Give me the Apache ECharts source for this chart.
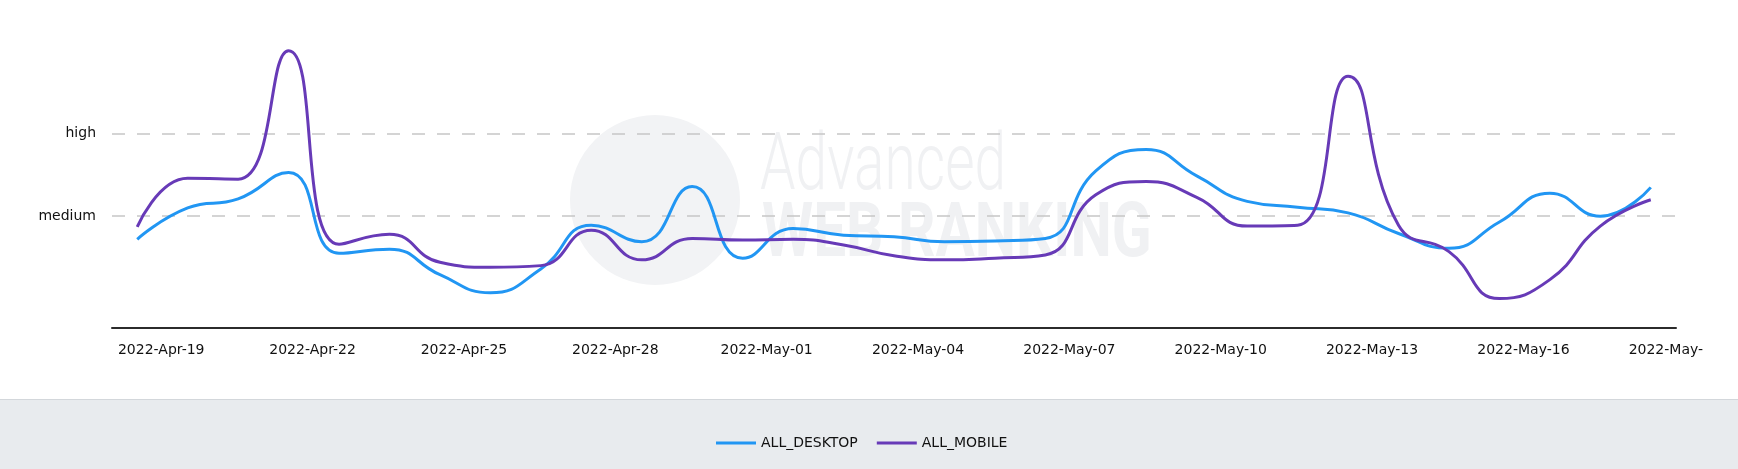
<!DOCTYPE html>
<html>
<head>
<meta charset="utf-8">
<script src="https://cdn.jsdelivr.net/npm/echarts@6/dist/echarts.min.js"></script>
<style>
  html, body { margin: 0; padding: 0; }
  body {
    width: 1738px; height: 469px; overflow: hidden;
    background: linear-gradient(to bottom, #ffffff 0, #ffffff 399px, #d3d7db 399px, #d3d7db 400px, #e8ebee 400px, #e8ebee 469px);
  }
  #chart { width: 1704px; height: 469px; }
</style>
</head>
<body>
<div id="chart"></div>
<script>
// ---- data ----
const categories = [
  '2022-Apr-19','2022-Apr-20','2022-Apr-21','2022-Apr-22','2022-Apr-23','2022-Apr-24',
  '2022-Apr-25','2022-Apr-26','2022-Apr-27','2022-Apr-28','2022-Apr-29','2022-Apr-30',
  '2022-May-01','2022-May-02','2022-May-03','2022-May-04','2022-May-05','2022-May-06',
  '2022-May-07','2022-May-08','2022-May-09','2022-May-10','2022-May-11','2022-May-12',
  '2022-May-13','2022-May-14','2022-May-15','2022-May-16','2022-May-17','2022-May-18',
  '2022-May-19'
];
const seriesNames = ['ALL_DESKTOP', 'ALL_MOBILE'];
// level scale: medium = 2, high = 3
const desktop = [1.72, 2.10, 2.21, 2.53, 1.55, 1.60, 1.29, 1.07, 1.36, 1.89, 1.69, 2.36,
                 1.49, 1.85, 1.77, 1.75, 1.69, 1.70, 1.73, 2.55, 2.81, 2.49, 2.18, 2.11,
                 2.04, 1.79, 1.61, 1.93, 2.28, 2.00, 2.35];
const mobile  = [1.87, 2.46, 2.45, 4.01, 1.66, 1.78, 1.44, 1.38, 1.40, 1.83, 1.47, 1.73,
                 1.71, 1.72, 1.65, 1.52, 1.47, 1.49, 1.53, 2.26, 2.42, 2.23, 1.88, 1.89,
                 3.70, 1.89, 1.57, 1.00, 1.23, 1.88, 2.20];
const levelValues = [2, 3];
const levelNames  = ['medium', 'high'];

const chart = echarts.init(document.getElementById('chart'), null,
  { renderer: 'canvas', width: 1704, height: 469 });
const FONT = 'DejaVu Sans';
const WM = '#f0f1f3';

chart.setOption({
  backgroundColor: 'transparent',
  animation: false,
  color: ['#2196F3', '#673AB7'],
  graphic: [
    { type: 'circle', z: 0, shape: { cx: 655, cy: 200, r: 85 }, style: { fill: '#f2f3f5' } },
    { type: 'text', z: 0, x: 760, y: 169, scaleX: 0.72,
      style: { text: 'Advanced', font: '300 79px Roboto', fill: WM, verticalAlign: 'middle' } },
    { type: 'text', z: 0, x: 762, y: 237, scaleX: 0.77,
      style: { text: 'WEB RANKING', font: 'bold 76px Roboto', fill: WM, verticalAlign: 'middle' } }
  ],
  grid: { left: 112, width: 1564, top: 35, height: 292.4, containLabel: false, outerBoundsMode: 'none' },
  legend: {
    data: seriesNames,
    left: 711, top: 431,
    icon: 'rect', itemWidth: 40, itemHeight: 3, itemGap: 19,
    textStyle: { fontFamily: FONT, fontSize: 14, color: '#111' }
  },
  xAxis: {
    type: 'category',
    data: categories,
    boundaryGap: true,
    axisLine: { lineStyle: { color: '#2b2b2b', width: 2 } },
    axisTick: { show: false },
    axisLabel: {
      interval: 2, margin: 16, align: 'center', padding: [0, 0, 0, 48],
      fontFamily: FONT, fontSize: 14, color: '#111', hideOverlap: false
    },
    splitLine: { show: false }
  },
  yAxis: {
    type: 'value',
    min: 0.65, max: 4.2, splitNumber: 3,
    axisLine: { show: false },
    axisTick: { show: false },
    splitLine: { show: false },
    axisLabel: {
      margin: 16, fontFamily: FONT, fontSize: 14, color: '#111',
      formatter: function (v) {
        const i = levelValues.indexOf(Math.round(v * 1000) / 1000);
        return i >= 0 ? levelNames[i] : '';
      }
    }
  },
  series: [
    {
      name: seriesNames[0], type: 'line', data: desktop, smooth: 0.5,
      symbol: 'none', lineStyle: { width: 3 }, z: 3,
      markLine: {
        silent: true, symbol: 'none', label: { show: false }, z: 1,
        lineStyle: { color: '#c6c6c6', width: 1.5, type: [13, 12] },
        data: levelValues.map(v => ({ yAxis: v }))
      }
    },
    {
      name: seriesNames[1], type: 'line', data: mobile, smooth: 0.5,
      symbol: 'none', lineStyle: { width: 3 }, z: 4
    }
  ]
});
</script>
</body>
</html>
